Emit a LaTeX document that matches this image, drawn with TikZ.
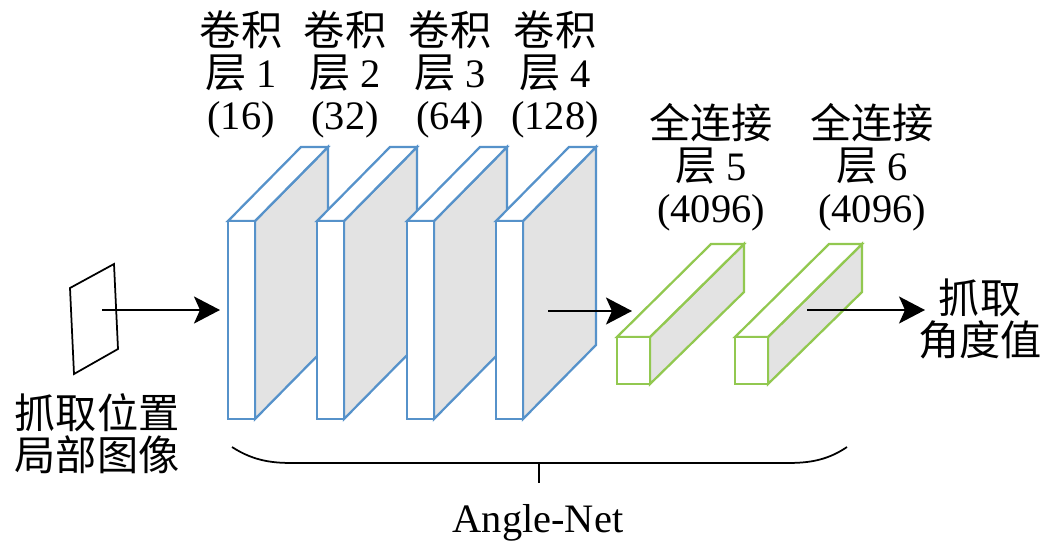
\documentclass[tikz,border=0pt]{standalone}
\usepackage{fontspec}
\setmainfont{Liberation Serif}
\newfontfamily\cjk{Noto Sans CJK SC}[Scale=1.02]
\usetikzlibrary{arrows.meta}
\definecolor{convblue}{RGB}{86,146,202}
\definecolor{fcgreen}{RGB}{146,200,80}
\definecolor{sidegray}{RGB}{227,227,227}
\begin{document}
\begin{tikzpicture}[x=0.02cm,y=-0.02cm,
  convedge/.style={draw=convblue,line width=0.045cm,line join=miter},
  fcedge/.style={draw=fcgreen,line width=0.045cm,line join=miter},
  arr/.style={-{Stealth[length=0.52cm,width=0.54cm,inset=0.12cm]},line width=0.04cm},
  lbl/.style={inner sep=0pt,align=center,font=\fontsize{23}{24}\selectfont}]
\useasboundingbox (0,0) rectangle (1061,545);
% input image
\draw[line width=0.035cm,line join=miter] (70,288) -- (114,264) -- (118,349) -- (74,374) -- cycle;
\coordinate (img) at (102,310);
% conv layers
\foreach \x in {228,317,407,496} {
  \filldraw[fill=sidegray,convedge] (\x+27,221) -- ++(73,-74) -- ++(0,198) -- (\x+27,419) -- cycle;
  \filldraw[fill=white,convedge] (\x,221) -- ++(73,-74) -- ++(27,0) -- (\x+27,221) -- cycle;
  \filldraw[fill=white,convedge] (\x,221) rectangle (\x+27,419);
}
% fc layers
\foreach \x in {617,735} {
  \filldraw[fill=sidegray,fcedge] (\x+33,337) -- ++(94,-93) -- ++(0,48) -- (\x+33,384) -- cycle;
  \filldraw[fill=white,fcedge] (\x,337) -- ++(94,-93) -- ++(33,0) -- (\x+33,337) -- cycle;
  \filldraw[fill=white,fcedge] (\x,337) rectangle (\x+33,384);
}
\coordinate (conv1in) at (220,310);
\coordinate (conv4out) at (548,311);
\coordinate (fc1in) at (632,311);
\coordinate (fc2out) at (807,310);
\coordinate (outin) at (925,310);
\draw[arr] (img) -- (conv1in);
\draw[arr] (conv4out) -- (fc1in);
\draw[arr] (fc2out) -- (outin);
% labels
\node[lbl,anchor=north] (l1) at (241,10) {{\cjk 卷积}\\{\cjk 层}\ 1\\(16)};
\node[lbl,anchor=north] (l2) at (345,10) {{\cjk 卷积}\\{\cjk 层}\ 2\\(32)};
\node[lbl,anchor=north] (l3) at (450,10) {{\cjk 卷积}\\{\cjk 层}\ 3\\(64)};
\node[lbl,anchor=north] (l4) at (555,10) {{\cjk 卷积}\\{\cjk 层}\ 4\\(128)};
\node[lbl,anchor=north] (l5) at (711,103) {{\cjk 全连接}\\{\cjk 层}\ 5\\(4096)};
\node[lbl,anchor=north] (l6) at (872,103) {{\cjk 全连接}\\{\cjk 层}\ 6\\(4096)};
\node[lbl,anchor=north] (out) at (980,278) {{\cjk 抓取}\\{\cjk 角度值}};
\node[lbl,anchor=north] (in) at (97,393) {{\cjk 抓取位置}\\{\cjk 局部图像}};
% brace
\coordinate (bl) at (232,447);
\coordinate (br) at (847,447);
\coordinate (bm) at (539,463);
\coordinate (bt) at (539,483);
\draw[line width=0.035cm] (bl) .. controls (255,462) and (275,463) .. (294,463) -- (785,463) .. controls (805,463) and (825,462) .. (br);
\draw[line width=0.035cm] (bm) -- (bt);
\node[lbl,anchor=base] (net) at (538,532) {Angle-Net};
\end{tikzpicture}
\end{document}
